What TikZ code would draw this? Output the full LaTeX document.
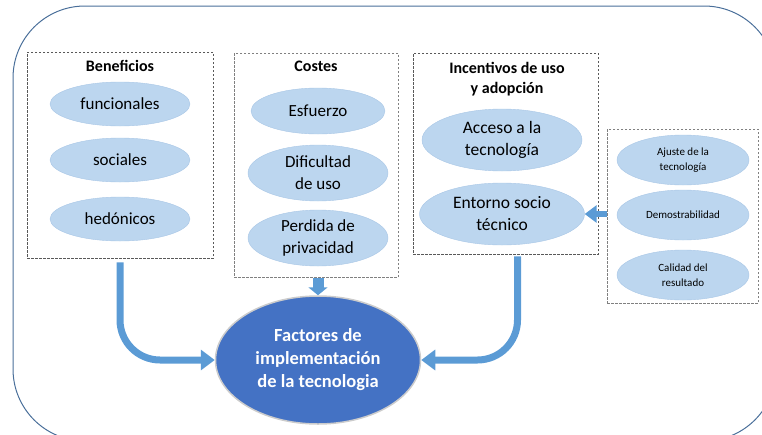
\documentclass[tikz,border=0pt]{standalone}
\usepackage{fontspec}
\setmainfont{Carlito}
\usetikzlibrary{shapes.geometric,arrows.meta}
\definecolor{bubble}{HTML}{BCD6EF}
\definecolor{bubbleline}{HTML}{A9C7E6}
\definecolor{arrowblue}{HTML}{5B9BD5}
\definecolor{mainblue}{HTML}{4472C4}
\definecolor{outerline}{HTML}{4A6F9A}
\tikzset{
  grp/.style={draw=black!65, dash pattern=on 2.5pt off 1.5pt, line width=0.6pt, inner sep=0pt},
  ttl/.style={font=\fontsize{16}{20}\selectfont\bfseries, align=center, inner sep=0pt},
  bub/.style={ellipse, fill=bubble, draw=bubbleline, line width=0.4pt, inner sep=0pt, align=center,
    font=\fontsize{17}{22}\selectfont},
  smallbub/.style={bub, font=\fontsize{11}{15}\selectfont},
  fat/.style={draw=arrowblue, line width=7pt, -{Triangle[width=20pt,length=14pt]}},
}
\begin{document}
\begin{tikzpicture}[x=1pt,y=-1pt]
\useasboundingbox (0,0) rectangle (762,434);
% outer rounded frame
\draw[outerline, line width=1pt, rounded corners=72pt] (13,6) rectangle (776,441);

% Beneficios
\node[grp, minimum width=186pt, minimum height=206pt] (ben) at (120,155) {};
\node[ttl] (bent) at (120,66) {Beneficios};
\node[bub, minimum width=140pt, minimum height=44pt] (fun) at (120,104) {funcionales};
\node[bub, minimum width=140pt, minimum height=44pt] (soc) at (120,160) {sociales};
\node[bub, minimum width=140pt, minimum height=44pt] (hed) at (120,219) {hedónicos};

% Costes
\node[grp, draw=black!50, minimum width=164pt, minimum height=224pt] (cos) at (316,165) {};
\node[ttl] (cost) at (316,66) {Costes};
\node[bub, minimum width=134pt, minimum height=46pt] (esf) at (318,111) {Esfuerzo};
\node[bub, minimum width=140pt, minimum height=56pt] (dif) at (318,173) {Dificultad\\de uso};
\node[bub, minimum width=140pt, minimum height=56pt] (per) at (318,238) {Perdida de\\privacidad};

% Incentivos
\node[grp, minimum width=185pt, minimum height=201pt] (inc) at (505.5,153.5) {};
\node[ttl] (inct) at (507,79) {Incentivos de uso\\y adopción};
\node[bub, font=\fontsize{17.5}{22}\selectfont, minimum width=160pt, minimum height=62pt] (acc) at (502,140) {Acceso a la\\tecnología};
\node[bub, font=\fontsize{17.5}{22}\selectfont, minimum width=165pt, minimum height=62pt] (ent) at (502,214) {Entorno socio\\técnico};

% right box
\node[grp, draw=black!50, minimum width=151pt, minimum height=174pt] (rgt) at (682.5,216) {};
\node[smallbub, minimum width=132pt, minimum height=50pt] (aju) at (683,160) {Ajuste de la\\tecnología};
\node[smallbub, minimum width=132pt, minimum height=50pt] (dem) at (683,215) {Demostrabilidad};
\node[smallbub, minimum width=132pt, minimum height=50pt] (cal) at (683,275) {Calidad del\\resultado};

% central ellipse
\node[ellipse, fill=mainblue, draw=black!20, line width=1.5pt, minimum width=205pt, minimum height=128pt,
  inner sep=0pt, align=center, text=white, font=\fontsize{18.5}{23}\selectfont\bfseries] (fac) at (318,360)
  {Factores de\\implementación\\de la tecnologia};

% connectors
\draw[fat, rounded corners=40pt] ([yshift=-4pt]ben.south) |- (fac.west);
\draw[fat, rounded corners=40pt] ([xshift=12pt,yshift=-2pt]inc.south) |- (fac.east);
\draw[draw=arrowblue, line width=11pt, -{Triangle[width=19pt,length=8pt]}] ([yshift=-1pt]cos.south -| fac.north) -- (fac.north);
\draw[draw=arrowblue, line width=6pt, -{Triangle[width=17pt,length=12pt]}] (rgt.west |- ent.east) -- (ent.east);
\end{tikzpicture}
\end{document}
